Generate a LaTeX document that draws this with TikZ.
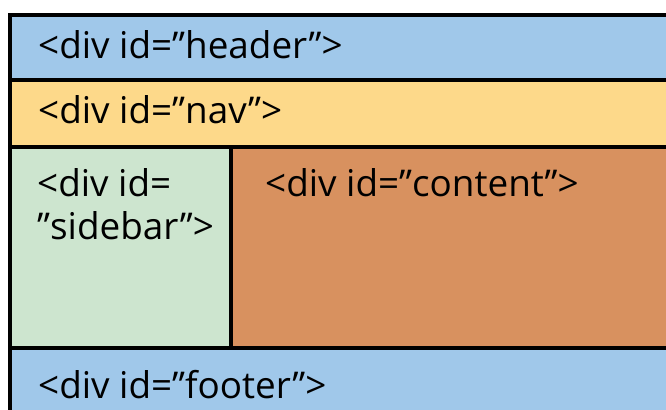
\documentclass[tikz,border=0pt]{standalone}
\usepackage{fontspec}
\setmainfont{Open Sans}
\usetikzlibrary{positioning}
\definecolor{headblue}{HTML}{A0C8EA}
\definecolor{navyellow}{HTML}{FDD98A}
\definecolor{sidegreen}{HTML}{CDE5CF}
\definecolor{contentbrown}{HTML}{D8915F}

\begin{document}
\begin{tikzpicture}[x=1bp,y=-1bp]
\tikzset{
  divbox/.style={draw=black,line width=4bp},
  divtext/.style={anchor=base west,inner sep=0pt,font=\fontsize{37}{44}\selectfont}
}
\useasboundingbox (0,0) rectangle (666,409);
\clip (0,0) rectangle (666,409);
\fill[white] (0,0) rectangle (666,409);

% page regions
\filldraw[divbox,fill=headblue] (10,15) rectangle (690,80);
\filldraw[divbox,fill=navyellow] (10,80) rectangle (690,147);
\filldraw[divbox,fill=sidegreen] (10,147) rectangle (231,348);
\filldraw[divbox,fill=contentbrown] (231,147) rectangle (690,348);
\filldraw[divbox,fill=headblue] (10,348) rectangle (690,430);

% labels
\node[divtext] (header) at (38,58) {<div id=”header”>};
\node[divtext] (nav) at (38,123) {<div id=”nav”>};
\node[divtext] (sidebar1) at (37,196) {<div id=};
\node[divtext] (sidebar2) at (37,239) {”sidebar”>};
\node[divtext] (content) at (265,196) {<div id=”content”>};
\node[divtext] (footer) at (38,398) {<div id=”footer”>};
\end{tikzpicture}
\end{document}
